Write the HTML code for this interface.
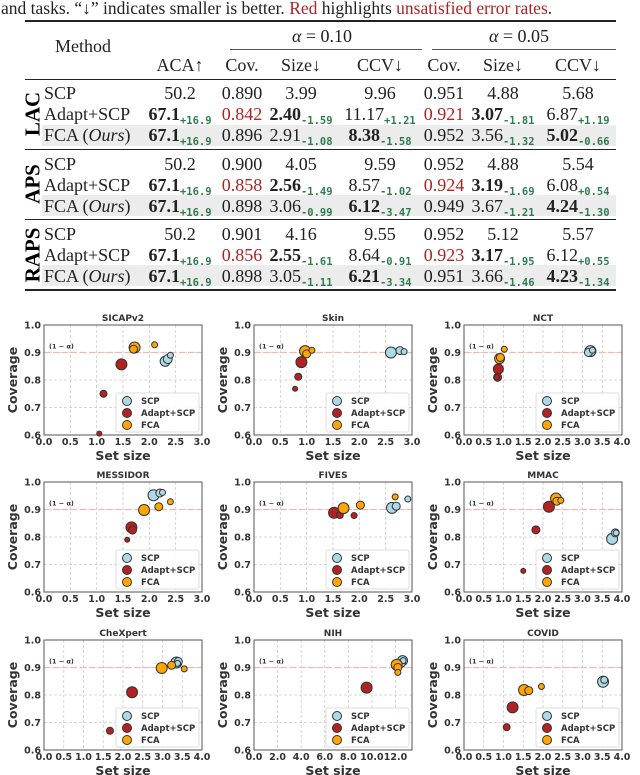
<!DOCTYPE html>
<html><head><meta charset="utf-8">
<style>
body{margin:0;background:#fff;width:640px;height:775px;overflow:hidden;position:relative;font-family:"Liberation Serif",serif;}
.t{position:absolute;white-space:nowrap;font-size:18px;color:#222;line-height:1;}
.c{transform:translateX(-50%);}
.b{font-weight:bold;}
.s{font-family:"DejaVu Sans Mono","Liberation Mono",monospace;font-size:10.5px;font-weight:bold;position:relative;top:4px;color:#2e7d4f;}
.r{color:#b22222;}
.rule{position:absolute;background:#222;left:25px;width:591px;}
.gray{position:absolute;left:42px;width:574px;height:21px;background:#ececec;}
.grp{position:absolute;font-weight:bold;font-size:21px;transform:translate(-50%,-50%) rotate(-90deg);}
</style></head><body>
<div class="t" style="left:1px;top:0px;font-size:17.5px;">and tasks. “↓” indicates smaller is better. <span class="r">Red</span> highlights <span class="r">unsatisfied error rates</span>.</div>
<div class="rule" style="top:20px;height:2px"></div>
<div class="rule" style="top:49px;height:1px;left:230px;width:192px;background:#555"></div>
<div class="rule" style="top:49px;height:1px;left:432px;width:184px;background:#555"></div>
<div class="rule" style="top:79px;height:1px"></div>
<div class="rule" style="top:149px;height:1px"></div>
<div class="rule" style="top:219px;height:1px"></div>
<div class="rule" style="top:289px;height:2px"></div>
<div class="gray" style="top:125px"></div>
<div class="gray" style="top:195px"></div>
<div class="gray" style="top:265px"></div>
<div class="t" style="left:55px;top:37px">Method</div>
<div class="t c" style="left:322px;top:27px"><i>α</i> = 0.10</div>
<div class="t c" style="left:519px;top:27px"><i>α</i> = 0.05</div>
<div id="tbl"></div>
<div class="grp" style="left:33px;top:114px">LAC</div>
<div class="grp" style="left:33px;top:184px">APS</div>
<div class="grp" style="left:33px;top:255px">RAPS</div>
<svg id="ch" width="640" height="775" style="position:absolute;left:0;top:0" xmlns="http://www.w3.org/2000/svg"></svg>
<script>
const colX=[180,242,301,380,444,503,578];
const headers=["ACA↑","Cov.","Size↓","CCV↓","Cov.","Size↓","CCV↓"];
const rowY=[93,114,135,164,185,206,234,255,276];
const methods=["SCP","Adapt+SCP","FCA (<i>Ours</i>)"];
const cells=[
["50.2","0.890","3.99","9.96","0.951","4.88","5.68"],
["**67.1|+16.9","r0.842","**2.40|-1.59","11.17|+1.21","r0.921","**3.07|-1.81","6.87|+1.19"],
["**67.1|+16.9","0.896","2.91|-1.08","**8.38|-1.58","0.952","3.56|-1.32","**5.02|-0.66"],
["50.2","0.900","4.05","9.59","0.952","4.88","5.54"],
["**67.1|+16.9","r0.858","**2.56|-1.49","8.57|-1.02","r0.924","**3.19|-1.69","6.08|+0.54"],
["**67.1|+16.9","0.898","3.06|-0.99","**6.12|-3.47","0.949","3.67|-1.21","**4.24|-1.30"],
["50.2","0.901","4.16","9.55","0.952","5.12","5.57"],
["**67.1|+16.9","r0.856","**2.55|-1.61","8.64|-0.91","r0.923","**3.17|-1.95","6.12|+0.55"],
["**67.1|+16.9","0.898","3.05|-1.11","**6.21|-3.34","0.951","3.66|-1.46","**4.23|-1.34"]];
const tbl=document.getElementById('tbl');
let h='';
headers.forEach((t,i)=>{h+=`<div class="t c" style="left:${colX[i]}px;top:56px">${t}</div>`;});
rowY.forEach((y,ri)=>{
 h+=`<div class="t" style="left:44px;top:${y-9}px">${methods[ri%3]}</div>`;
 cells[ri].forEach((v,ci)=>{
  let cls='',s=v;
  if(s.startsWith('**')){cls='b';s=s.slice(2);}
  if(s.startsWith('r')){cls='r';s=s.slice(1);}
  let [m,sub]=s.split('|');
  let html=`<span class="${cls}">${m}</span>`+(sub?`<span class="s">${sub}</span>`:'');
  h+=`<div class="t c" style="left:${colX[ci]}px;top:${y-9}px">${html}</div>`;
 });
});
tbl.innerHTML=h;
</script>
<script>
const titles=["SICAPv2","Skin","NCT","MESSIDOR","FIVES","MMAC","CheXpert","NIH","COVID"];
const xMaxes=[3,3,4,3,3,4,4,13.4,4];
const xTickSets=[[0,0.5,1,1.5,2,2.5,3],[0,0.5,1,1.5,2,2.5,3],[0,0.5,1,1.5,2,2.5,3,3.5,4],[0,0.5,1,1.5,2,2.5,3],[0,0.5,1,1.5,2,2.5,3],[0,0.5,1,1.5,2,2.5,3,3.5,4],[0,0.5,1,1.5,2,2.5,3,3.5,4],[0,2,4,6,8,10,12],[0,0.5,1,1.5,2,2.5,3,3.5,4]];
const yTicks=[0.6,0.7,0.8,0.9,1.0];
const scpData=[
[[2.3,0.868,5],[2.35,0.876,4.5],[2.4,0.89,3]],
[[2.6,0.9,5.5],[2.77,0.907,4],[2.85,0.903,3]],
[[3.2,0.905,5.5],[3.15,0.9,4],[3.25,0.908,3]],
[[2.08,0.952,5.5],[2.2,0.96,4],[2.25,0.962,3]],
[[2.62,0.906,5.5],[2.7,0.912,4],[2.92,0.938,3]],
[[3.75,0.793,5.5],[3.83,0.815,4],[3.85,0.815,3]],
[[3.35,0.918,5.5],[3.4,0.922,4],[3.38,0.915,3]],
[[12.6,0.925,5],[12.5,0.915,4],[12.65,0.925,3]],
[[3.52,0.848,5.5],[3.55,0.855,3.5]]];
const adaptData=[
[[1.47,0.857,5.5],[1.13,0.75,3.5],[1.05,0.605,2.5]],
[[0.9,0.865,5.5],[0.84,0.812,3.5],[0.78,0.768,2.5]],
[[0.87,0.84,5],[0.85,0.81,4],[0.83,0.81,2.5]],
[[1.66,0.835,5.5],[1.68,0.825,4],[1.58,0.79,2.5]],
[[1.52,0.888,5.5],[1.63,0.88,3.5],[1.9,0.878,3]],
[[2.15,0.91,5.5],[1.82,0.826,4],[1.5,0.677,2.5]],
[[2.23,0.81,5.5],[1.67,0.67,3.5]],
[[9.55,0.827,5.5]],
[[1.23,0.755,5.5],[1.08,0.683,3.5]]];
const fcaData=[
[[1.72,0.918,5.5],[1.7,0.912,4],[2.1,0.928,3]],
[[0.97,0.905,5.5],[1.0,0.895,4],[1.1,0.908,3]],
[[0.9,0.878,5],[0.92,0.882,4],[1.02,0.912,3]],
[[1.9,0.898,5.5],[2.18,0.91,4],[2.4,0.928,3]],
[[1.7,0.905,5.5],[2.02,0.916,4],[2.68,0.946,3]],
[[2.33,0.94,5.5],[2.35,0.93,4],[2.45,0.933,3]],
[[2.98,0.898,5.5],[3.23,0.908,4],[3.55,0.895,3]],
[[12.1,0.91,5.5],[12.2,0.9,4],[12.2,0.882,3]],
[[1.52,0.818,5.5],[1.64,0.816,4],[1.96,0.831,3]]];
const seriesNames=["SCP","Adapt+SCP","FCA"];
const seriesColors=["#add8e6","#b22222","#ffa500"];
const svg=document.getElementById('ch');
const NS="http://www.w3.org/2000/svg";
function mk(tag,attrs,parent){const e=document.createElementNS(NS,tag);for(const k in attrs)e.setAttribute(k,attrs[k]);(parent||svg).appendChild(e);return e;}
function txt(x,y,s,size,anchor,parent,extra){const e=mk('text',Object.assign({x:x,y:y,'font-size':size,'text-anchor':anchor||'middle','font-family':'DejaVu Sans, sans-serif','font-weight':'bold',fill:'#333'},extra||{}),parent);e.textContent=s;return e;}
const colLeft=[44,254,464], rowTop=[325,482,640], W=158, H=110;
titles.forEach((title,i)=>{
 const x0=colLeft[i%3], y0=rowTop[Math.floor(i/3)];
 const g=mk('g',{});
 
 
 const sx=v=>x0+v/xMaxes[i]*W;
 const sy=v=>y0+H-(v-0.6)/0.4*H;
 xTickSets[i].forEach(t=>{
  mk('line',{x1:sx(t),x2:sx(t),y1:y0,y2:y0+H,stroke:'#ccc','stroke-dasharray':'3,2','stroke-width':0.8},g);
  const lab=txt(sx(t),y0+H+10,t.toFixed(1),9.5,'middle',g);
  
 });
 yTicks.forEach(t=>{
  mk('line',{x1:x0,x2:x0+W,y1:sy(t),y2:sy(t),stroke:'#ccc','stroke-dasharray':'3,2','stroke-width':0.8},g);
  const lab=txt(x0-3,sy(t)+3.5,t.toFixed(1),9.5,'end',g);
  
 });
 mk('line',{x1:x0,x2:x0+W,y1:sy(0.9),y2:sy(0.9),stroke:'#f2b8b8','stroke-dasharray':'6,3','stroke-width':1.3},g);
 txt(x0+5,sy(0.9)-4,'(1 − α)',6.5,'start',g);
 mk('rect',{x:x0,y:y0,width:W,height:H,fill:'none',stroke:'#555','stroke-width':1},g);
 const tt=txt(x0+W/2,y0-4,title,9,'middle',g);
 
 const xl=txt(x0+W/2,y0+H+25,'Set size',12.5,'middle',g);
 
 const yl=txt(0,0,'Coverage',12.5,'middle',g,{transform:`translate(${x0-27},${y0+H/2}) rotate(-90)`});
 
 [scpData,adaptData,fcaData].forEach((ds,si)=>{
  ds[i].forEach(p=>{
   const c=mk('circle',{cx:sx(p[0]),cy:sy(p[1]),r:p[2],fill:seriesColors[si],stroke:'#333','stroke-width':1},g);
   
   
  });
 });
 const lg=mk('g',{},g);
 
 
 const lx=x0+W-86, ly=y0+H-42;
 mk('rect',{x:lx,y:ly,width:83,height:39,rx:2,fill:'#fff','fill-opacity':0.9,stroke:'#ddd'},lg);
 seriesNames.forEach((n,si)=>{
  const ey=ly+8+si*12;
  const m=mk('circle',{cx:lx+11,cy:ey,r:4.5,fill:seriesColors[si],stroke:'#333','stroke-width':1},lg);
  
  txt(lx+25,ey+3,n,8.5,'start',lg);
 });
});
</script>
</body></html>
